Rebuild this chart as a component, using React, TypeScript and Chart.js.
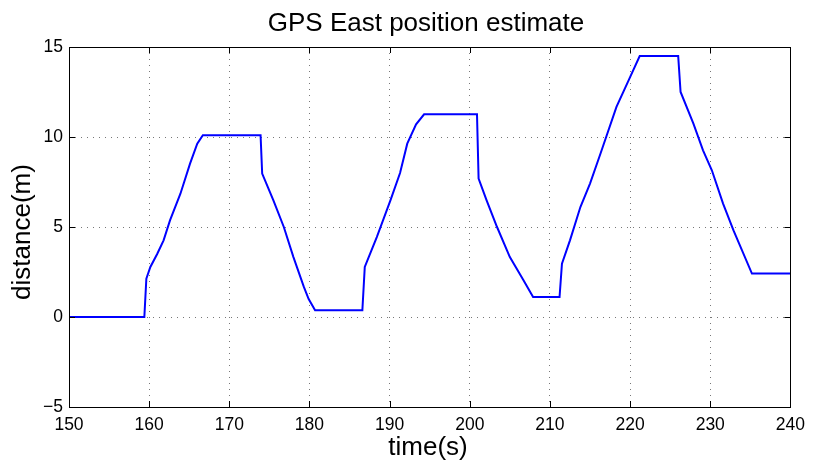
import React, { useEffect, useRef } from "react";
import { Chart, registerables } from "chart.js";

Chart.register(...registerables);

const timeS = [
  150, 159.4, 159.65, 160.15, 161.0, 161.8, 162.6, 163.9, 165.1, 166.0, 166.7,
  173.9, 174.1, 175.5, 176.8, 178.0, 179.3, 179.9, 180.7,
  186.6, 186.9, 188.4, 190.1, 191.3, 192.2, 193.3, 194.3,
  200.9, 201.1, 202.1, 203.4, 205.0, 206.7, 207.9,
  211.2, 211.5, 212.5, 213.8, 215.0, 216.3, 218.3, 220.0, 221.2,
  226.0, 226.3, 227.9, 229.1, 230.2, 231.6, 232.9, 235.2, 240,
];
const eastM = [
  0, 0, 2.13, 2.78, 3.5, 4.26, 5.37, 6.85, 8.52, 9.63, 10.1,
  10.1, 7.97, 6.48, 5.0, 3.33, 1.67, 1.0, 0.37,
  0.37, 2.78, 4.44, 6.48, 8.0, 9.63, 10.7, 11.26,
  11.26, 7.69, 6.48, 5.0, 3.33, 2.04, 1.11,
  1.11, 2.96, 4.26, 6.11, 7.41, 9.07, 11.67, 13.33, 14.5,
  14.5, 12.5, 10.74, 9.26, 8.15, 6.3, 4.81, 2.41, 2.41,
];
const xTicks = [150, 160, 170, 180, 190, 200, 210, 220, 230, 240];
const yTicks = [-5, 0, 5, 10, 15];

const titleText = "GPS East position estimate";
const xLabel = "time(s)";
const yLabel = "distance(m)";

const FONT = '"Liberation Sans", Arial, Helvetica, sans-serif';

export default function App() {
  const ref = useRef<HTMLCanvasElement>(null);
  useEffect(() => {
    if (!ref.current) return;
    const deco = {
      id: "deco",
      afterDraw(chart: any) {
        const ctx = chart.ctx;
        const { left, right, top, bottom } = chart.chartArea;
        const xs = chart.scales.x;
        const ys = chart.scales.y;
        ctx.save();
        ctx.strokeStyle = "#000";
        ctx.lineWidth = 1;
        ctx.beginPath();
        for (const v of xTicks) {
          const p = Math.round(xs.getPixelForValue(v)) + 0.5;
          ctx.moveTo(p, bottom);
          ctx.lineTo(p, bottom - 6);
          ctx.moveTo(p, top);
          ctx.lineTo(p, top + 6);
        }
        for (const v of yTicks) {
          const p = Math.round(ys.getPixelForValue(v)) + 0.5;
          ctx.moveTo(left, p);
          ctx.lineTo(left + 6, p);
          ctx.moveTo(right, p);
          ctx.lineTo(right - 6, p);
        }
        ctx.stroke();
        ctx.strokeRect(Math.round(left) + 0.5, Math.round(top) + 0.5, Math.round(right - left), Math.round(bottom - top));
        ctx.fillStyle = "#000";
        ctx.textAlign = "center";
        ctx.textBaseline = "alphabetic";
        ctx.font = `26px ${FONT}`;
        ctx.fillText(titleText, 426, 31);
        ctx.fillText(xLabel, 428, 455);
        ctx.translate(30, 232);
        ctx.rotate(-Math.PI / 2);
        ctx.fillText(yLabel, 0, 0);
        ctx.restore();
      },
    };
    const chart = new Chart(ref.current, {
      type: "line",
      data: {
        datasets: [
          {
            data: timeS.map((t, i) => ({ x: t, y: eastM[i] })),
            borderColor: "#0000ff",
            borderWidth: 2,
            pointRadius: 0,
            fill: false,
            tension: 0,
          },
        ],
      },
      options: {
        responsive: false,
        animation: false,
        layout: { padding: { top: 47, right: 22, left: 0, bottom: 0 } },
        plugins: { legend: { display: false }, tooltip: { enabled: false }, title: { display: false } },
        scales: {
          x: {
            type: "linear",
            min: 150,
            max: 240,
            afterFit(s: any) { s.height = 56; },
            afterBuildTicks(s: any) { s.ticks = xTicks.map((v) => ({ value: v })); },
            ticks: { color: "#000", font: { family: FONT, size: 17.5 }, padding: 8, maxRotation: 0, autoSkip: false },
            grid: { color: "#777", drawTicks: false },
            border: { display: false, dash: [1, 5] },
          },
          y: {
            type: "linear",
            min: -5,
            max: 15,
            afterFit(s: any) { s.width = 69; },
            afterBuildTicks(s: any) { s.ticks = yTicks.map((v) => ({ value: v })); },
            ticks: {
              color: "#000",
              font: { family: FONT, size: 17.5 },
              padding: 6,
              autoSkip: false,
              callback: (v: any) => String(v).replace("-", "\u2212"),
            },
            grid: { color: "#777", drawTicks: false },
            border: { display: false, dash: [1, 5] },
          },
        },
      },
      plugins: [deco],
    });
    return () => chart.destroy();
  }, []);
  return (
    <div style={{ position: "absolute", left: 0, top: 0, width: 813, height: 463, background: "#fff" }}>
      <canvas ref={ref} width={813} height={463} />
    </div>
  );
}
